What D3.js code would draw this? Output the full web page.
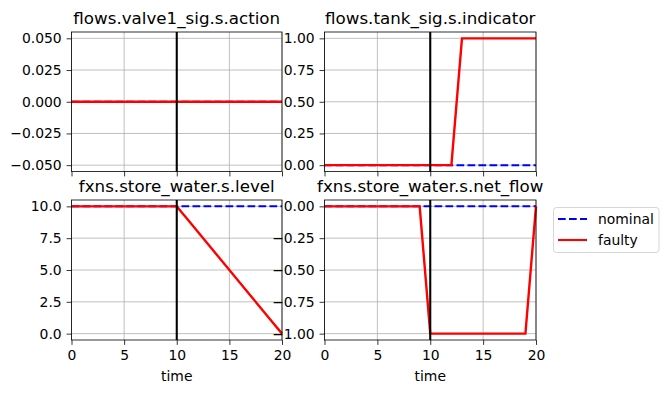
<!DOCTYPE html>
<html>
<head>
<meta charset="utf-8">
<script src="https://cdn.jsdelivr.net/npm/d3@7"></script>
<style>
  body { margin: 0; background: #fff; }
  svg { display: block; font-family: "DejaVu Sans", sans-serif; }
</style>
</head>
<body>
<div id="chart"></div>
<script>
// time steps
const time = [0, 1, 2, 3, 4, 5, 6, 7, 8, 9, 10, 11, 12, 13, 14, 15, 16, 17, 18, 19, 20];

// flows.valve1_sig.s.action
const actionNominal = [0, 0, 0, 0, 0, 0, 0, 0, 0, 0, 0, 0, 0, 0, 0, 0, 0, 0, 0, 0, 0];
const actionFaulty  = [0, 0, 0, 0, 0, 0, 0, 0, 0, 0, 0, 0, 0, 0, 0, 0, 0, 0, 0, 0, 0];

// flows.tank_sig.s.indicator
const indicatorNominal = [0, 0, 0, 0, 0, 0, 0, 0, 0, 0, 0, 0, 0, 0, 0, 0, 0, 0, 0, 0, 0];
const indicatorFaulty  = [0, 0, 0, 0, 0, 0, 0, 0, 0, 0, 0, 0, 0, 1, 1, 1, 1, 1, 1, 1, 1];

// fxns.store_water.s.level
const levelNominal = [10, 10, 10, 10, 10, 10, 10, 10, 10, 10, 10, 10, 10, 10, 10, 10, 10, 10, 10, 10, 10];
const levelFaulty  = [10, 10, 10, 10, 10, 10, 10, 10, 10, 10, 10, 9, 8, 7, 6, 5, 4, 3, 2, 1, 0];

// fxns.store_water.s.net_flow
const flowNominal = [0, 0, 0, 0, 0, 0, 0, 0, 0, 0, 0, 0, 0, 0, 0, 0, 0, 0, 0, 0, 0];
const flowFaulty  = [0, 0, 0, 0, 0, 0, 0, 0, 0, 0, -1, -1, -1, -1, -1, -1, -1, -1, -1, -1, 0];

const xTicks = [0, 5, 10, 15, 20];
const faultTime = 10;
const legendLabels = ['nominal', 'faulty'];

const panels = [
  { title: 'flows.valve1_sig.s.action', nominal: actionNominal, faulty: actionFaulty,
    domain: [-0.055, 0.055], ticks: [-0.05, -0.025, 0, 0.025, 0.05], fmt: '.3f', col: 0, row: 0 },
  { title: 'flows.tank_sig.s.indicator', nominal: indicatorNominal, faulty: indicatorFaulty,
    domain: [-0.05, 1.05], ticks: [0, 0.25, 0.5, 0.75, 1], fmt: '.2f', col: 1, row: 0 },
  { title: 'fxns.store_water.s.level', nominal: levelNominal, faulty: levelFaulty,
    domain: [-0.5, 10.5], ticks: [0, 2.5, 5, 7.5, 10], fmt: '.1f', col: 0, row: 1 },
  { title: 'fxns.store_water.s.net_flow', nominal: flowNominal, faulty: flowFaulty,
    domain: [-1.05, 0.05], ticks: [-1, -0.75, -0.5, -0.25, 0], fmt: '.2f', col: 1, row: 1 }
];

const width = 669, height = 393;
const colX = [[71.5, 282], [324.5, 536]];
const rowY = [[32, 171.5], [200, 340]];
const fontSize = 13.9;

const svg = d3.select('#chart').append('svg')
  .attr('width', width)
  .attr('height', height);

svg.append('rect').attr('width', width).attr('height', height).attr('fill', '#fff');

panels.forEach(p => {
  const [x0, x1] = colX[p.col];
  const [y0, y1] = rowY[p.row];
  const x = d3.scaleLinear().domain([0, 20]).range([x0, x1]);
  const y = d3.scaleLinear().domain(p.domain).range([y1, y0]);
  const g = svg.append('g');

  // grid
  g.selectAll('.vgrid').data(xTicks).join('line')
    .attr('x1', d => x(d)).attr('x2', d => x(d))
    .attr('y1', y0).attr('y2', y1)
    .attr('stroke', '#b0b0b0').attr('stroke-width', 0.8);
  g.selectAll('.hgrid').data(p.ticks).join('line')
    .attr('x1', x0).attr('x2', x1)
    .attr('y1', d => y(d)).attr('y2', d => y(d))
    .attr('stroke', '#b0b0b0').attr('stroke-width', 0.8);

  const line = d3.line().x((d, i) => x(time[i])).y(d => y(d));

  g.append('path').datum(p.nominal)
    .attr('d', line)
    .attr('fill', 'none')
    .attr('stroke', 'blue')
    .attr('stroke-width', 2.0)
    .attr('stroke-dasharray', '7.7,3.3');

  // slightly wider so the dashed nominal line hides fully underneath
  g.append('path').datum(p.faulty)
    .attr('d', line)
    .attr('fill', 'none')
    .attr('stroke', 'red')
    .attr('stroke-width', 2.4);

  // fault injection time
  g.append('line')
    .attr('x1', x(faultTime)).attr('x2', x(faultTime))
    .attr('y1', y0).attr('y2', y1)
    .attr('stroke', 'black').attr('stroke-width', 2.08);

  // frame
  g.append('rect')
    .attr('x', x0).attr('y', y0)
    .attr('width', x1 - x0).attr('height', y1 - y0)
    .attr('fill', 'none').attr('stroke', 'black').attr('stroke-width', 0.8);

  // axes
  const yAxis = d3.axisLeft(y).tickValues(p.ticks)
    .tickFormat(d3.format(p.fmt)).tickSize(4.9).tickPadding(4.9).tickSizeOuter(0);
  const ya = g.append('g').attr('transform', `translate(${x0},0)`).call(yAxis);

  const xAxis = d3.axisBottom(x).tickValues(xTicks)
    .tickFormat(p.row === 1 ? d3.format('d') : '').tickSize(4.9).tickPadding(4.9).tickSizeOuter(0);
  const xa = g.append('g').attr('transform', `translate(0,${y1})`).call(xAxis);

  [ya, xa].forEach(a => {
    a.select('.domain').remove();
    a.selectAll('line').attr('stroke', 'black').attr('stroke-width', 0.8);
    a.selectAll('text').attr('fill', 'black')
      .style('font-size', fontSize + 'px')
      .style('font-family', '"DejaVu Sans", sans-serif');
  });

  g.append('text')
    .attr('x', (x0 + x1) / 2).attr('y', y0 - 8.3)
    .attr('text-anchor', 'middle')
    .style('font-size', '16.7px')
    .text(p.title);

  if (p.row === 1) {
    g.append('text')
      .attr('x', (x0 + x1) / 2).attr('y', 381)
      .attr('text-anchor', 'middle')
      .style('font-size', fontSize + 'px')
      .text('time');
  }
});

// legend
const legend = svg.append('g');
legend.append('rect')
  .attr('x', 553.5).attr('y', 207.5)
  .attr('width', 105.5).attr('height', 45)
  .attr('rx', 3)
  .attr('fill', 'white').attr('fill-opacity', 0.8)
  .attr('stroke', '#cccccc').attr('stroke-width', 0.8);

const legendStyle = [
  { color: 'blue', dash: '7.7,3.3' },
  { color: 'red', dash: null }
];
legendLabels.forEach((label, i) => {
  const ly = 219 + i * 21;
  legend.append('line')
    .attr('x1', 558).attr('x2', 587)
    .attr('y1', ly).attr('y2', ly)
    .attr('stroke', legendStyle[i].color)
    .attr('stroke-width', 2.08)
    .attr('stroke-dasharray', legendStyle[i].dash);
  legend.append('text')
    .attr('x', 598).attr('y', ly)
    .attr('dy', '0.35em')
    .style('font-size', fontSize + 'px')
    .text(label);
});
</script>
</body>
</html>
